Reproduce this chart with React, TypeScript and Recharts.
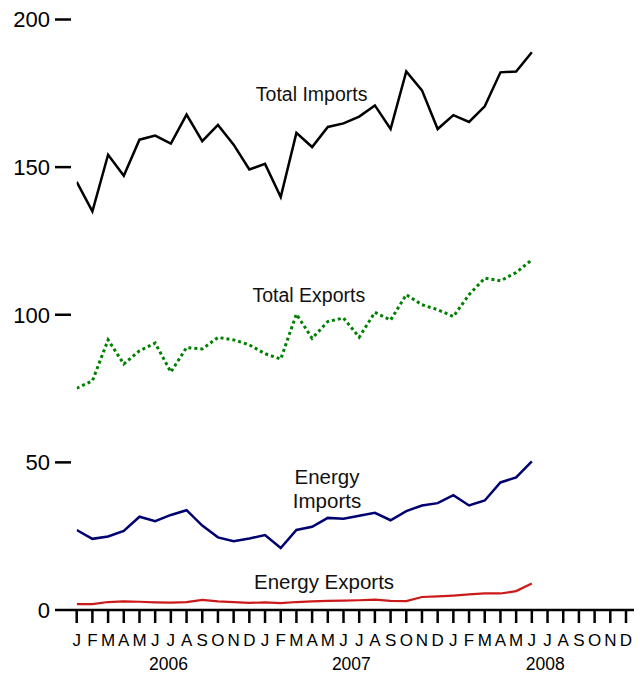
import React from 'react';
import { LineChart, Line, XAxis, YAxis, ReferenceDot } from 'recharts';

const FONT = '"Liberation Sans", Arial, Helvetica, sans-serif';

const monthLetters = ['J', 'F', 'M', 'A', 'M', 'J', 'J', 'A', 'S', 'O', 'N', 'D'];
const years = ['2006', '2007', '2008'];
const yearTickPos = [5.85, 17.5, 29.85];
const yTicks = [0, 50, 100, 150, 200];

const totalImports = [145, 135, 154.2, 147.1, 159.3, 160.7, 158, 167.8, 158.8, 164.3, 157.6, 149.2, 151.1, 139.9, 161.6, 156.8, 163.6, 164.8, 167.1, 170.9, 162.9, 182.4, 176, 162.9, 167.6, 165.3, 170.6, 182.1, 182.4, 188.9];
const totalExports = [75.1, 77.6, 91.5, 83.3, 87.8, 90.4, 80.6, 88.9, 88.4, 92.3, 91.5, 89.8, 86.8, 85, 100.2, 92, 97.7, 98.9, 92.4, 100.8, 98.2, 106.8, 103.4, 101.7, 99.4, 106.8, 112.4, 111.5, 114.3, 118.6];
const energyImports = [27.1, 24.1, 24.9, 26.8, 31.6, 30.1, 32.2, 33.8, 28.6, 24.6, 23.3, 24.2, 25.4, 21, 27.1, 28.2, 31.2, 30.9, 31.9, 32.9, 30.4, 33.5, 35.4, 36.2, 38.9, 35.4, 37.1, 43.2, 44.9, 50.3];
const energyExports = [2, 2, 2.7, 2.9, 2.8, 2.6, 2.5, 2.7, 3.4, 2.9, 2.7, 2.4, 2.6, 2.3, 2.7, 2.9, 3.1, 3.2, 3.3, 3.5, 3.1, 3.0, 4.4, 4.6, 4.9, 5.3, 5.6, 5.6, 6.4, 9];

// series annotations anchored in data units (month index, value)
const annotations = [
  { lines: ['Total Imports'], at: [14.97, 172.4], size: 19.5 },
  { lines: ['Total Exports'], at: [14.79, 104.2], size: 19.5 },
  { lines: ['Energy', 'Imports'], at: [15.95, 42.7], size: 20.5 },
  { lines: ['Energy Exports'], at: [15.76, 7.1], size: 20.5 },
];

const data = totalImports.map((v, i) => ({
  i,
  ti: v,
  te: totalExports[i],
  ei: energyImports[i],
  ee: energyExports[i],
}));
const monthTicks = Array.from({ length: 36 }, (_, i) => i);

const MonthTick = (props: any) => {
  const { x, y, payload } = props;
  return (
    <text x={x} y={y} dy="0.71em" textAnchor="middle" fontSize={17} fontFamily={FONT} fill="#000">
      {monthLetters[payload.value % 12]}
    </text>
  );
};

const YearTick = (props: any) => {
  const { x, y, payload } = props;
  const idx = yearTickPos.indexOf(payload.value);
  return (
    <text x={x} y={y} dy="0.71em" textAnchor="middle" fontSize={17.5} fontFamily={FONT} fill="#000">
      {years[idx]}
    </text>
  );
};

const makeLabel = (lines: string[], size: number) => (props: any) => {
  const vb = props.viewBox || {};
  const cx = (vb.x ?? 0) + (vb.width ?? 0) / 2;
  const cy = (vb.y ?? 0) + (vb.height ?? 0) / 2;
  return (
    <text x={cx} y={cy} textAnchor="middle" fontSize={size} fontFamily={FONT} fill="#111">
      {lines.map((l, k) => (
        <tspan key={k} x={cx} dy={k === 0 ? 0 : 24}>
          {l}
        </tspan>
      ))}
    </text>
  );
};

export default function App() {
  return (
    <div style={{ position: 'absolute', left: 0, top: 0, background: '#fff' }}>
      <LineChart width={643} height={675} data={data} margin={{ top: 19.5, right: 9, bottom: 5, left: 0 }}>
        <XAxis
          xAxisId={0}
          dataKey="i"
          type="number"
          domain={[0, 35]}
          ticks={monthTicks}
          interval={0}
          padding={{ left: 5.7, right: 8 }}
          height={28}
          tickSize={13}
          tickMargin={11}
          axisLine={{ stroke: '#000', strokeWidth: 2.5 }}
          tickLine={{ stroke: '#000', strokeWidth: 2.5 }}
          tick={<MonthTick />}
          allowDataOverflow
        />
        <XAxis
          xAxisId="yr"
          dataKey="i"
          type="number"
          domain={[0, 35]}
          ticks={yearTickPos}
          interval={0}
          padding={{ left: 5.7, right: 8 }}
          height={32}
          tickSize={0}
          tickMargin={20}
          axisLine={false}
          tickLine={false}
          tick={<YearTick />}
          allowDataOverflow
        />
        <YAxis
          domain={[0, 200]}
          ticks={yTicks}
          interval={0}
          width={71}
          tickSize={16}
          tickMargin={5}
          axisLine={false}
          tickLine={{ stroke: '#000', strokeWidth: 2.5 }}
          tick={{ fontSize: 22, fill: '#000', fontFamily: FONT }}
        />
        <Line dataKey="ti" stroke="#000" strokeWidth={2.5} dot={false} isAnimationActive={false} />
        <Line dataKey="te" stroke="#008000" strokeWidth={3} strokeDasharray="3 3" dot={false} isAnimationActive={false} />
        <Line dataKey="ei" stroke="#000070" strokeWidth={2.5} dot={false} isAnimationActive={false} />
        <Line dataKey="ee" stroke="#cc1a1a" strokeWidth={2.2} dot={false} isAnimationActive={false} />
        {annotations.map((a, k) => (
          <ReferenceDot
            key={k}
            x={a.at[0]}
            y={a.at[1]}
            r={0}
            fill="none"
            stroke="none"
            ifOverflow="visible"
            label={makeLabel(a.lines, a.size)}
          />
        ))}
      </LineChart>
    </div>
  );
}
